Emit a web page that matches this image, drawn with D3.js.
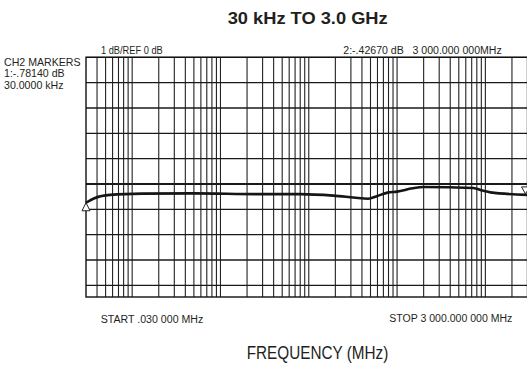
<!DOCTYPE html>
<html>
<head>
<meta charset="utf-8">
<script src="https://cdn.jsdelivr.net/npm/d3@7"></script>
<style>
  body { margin: 0; background: #fff; }
  svg { display: block; }
</style>
</head>
<body>
<div class="sweep-plot"></div>
<script>
// trace values (MHz, dB)
const freqs = [0.03, 0.038, 0.056, 0.13, 0.5, 2.8, 8, 19, 32, 47, 60, 78, 100, 150, 200, 730, 930, 1140, 3000];
const gains = [-0.74, -0.55, -0.43, -0.38, -0.37, -0.40, -0.40, -0.46, -0.53, -0.58, -0.47, -0.34, -0.30, -0.17, -0.12, -0.16, -0.26, -0.33, -0.43];

// grid: 1 dB per division, log frequency lines 1..9 per decade
const dbTicks = [-4, -3, -2, -1, 0, 1, 2, 3, 4, 5];
const decades = [0.01, 0.1, 1, 10, 100, 1000];
const mantissas = [1, 2, 3, 4, 5, 6, 7, 8, 9];

const markerText = ["CH2 MARKERS", "1:-.78140 dB", "30.0000 kHz"];

const width = 527, height = 367;
const plotLeft = 86, plotRight = 527.5, plotTop = 57.3, plotBottom = 297;

const svg = d3.select(".sweep-plot").append("svg")
  .attr("width", width)
  .attr("height", height)
  .attr("viewBox", [0, 0, width, height]);

const x = d3.scaleLog().domain([0.03, 3000]).range([plotLeft, plotRight]);
const y = d3.scaleLinear().domain([0, 5]).range([184, plotTop]);

const freqLines = decades.flatMap(d => mantissas.map(m => +(d * m).toPrecision(3)))
  .filter(f => f > 0.03 && f < 3000);

// vertical grid
svg.append("g")
  .selectAll("line")
  .data(freqLines)
  .join("line")
    .attr("x1", d => x(d)).attr("x2", d => x(d))
    .attr("y1", plotTop).attr("y2", plotBottom)
    .attr("stroke", "#222")
    .attr("stroke-width", 1.1);

// horizontal grid, ref line drawn heavier
svg.append("g")
  .selectAll("line")
  .data(dbTicks)
  .join("line")
    .attr("x1", plotLeft).attr("x2", plotRight)
    .attr("y1", d => y(d)).attr("y2", d => y(d))
    .attr("stroke", "#1a1a1a")
    .attr("stroke-width", d => d === 0 ? 2 : 1.3);

// frame
svg.append("rect")
  .attr("x", plotLeft).attr("y", plotTop)
  .attr("width", plotRight - plotLeft).attr("height", plotBottom - plotTop)
  .attr("fill", "none")
  .attr("stroke", "#111")
  .attr("stroke-width", 1.4);

// trace
const line = d3.line()
  .x((d, i) => x(freqs[i]))
  .y(d => y(d))
  .curve(d3.curveMonotoneX);

svg.append("path")
  .datum(gains)
  .attr("d", line)
  .attr("fill", "none")
  .attr("stroke", "#151515")
  .attr("stroke-width", 2.6)
  .attr("stroke-linejoin", "round");

// marker 1 (start) and marker 2 (stop)
const m1x = x(freqs[0]), m1y = y(gains[0]);
svg.append("path")
  .attr("d", `M${m1x},${m1y} L${m1x - 4},${m1y + 8} L${m1x + 4},${m1y + 8} Z`)
  .attr("fill", "#fff").attr("stroke", "#222").attr("stroke-width", 1);

const last = freqs.length - 1;
const m2x = x(freqs[last]) - 2, m2y = y(gains[last]);
svg.append("path")
  .attr("d", `M${m2x},${m2y - 1} L${m2x - 4},${m2y - 8} L${m2x + 4},${m2y - 8} Z`)
  .attr("fill", "#fff").attr("stroke", "#222").attr("stroke-width", 1);

// texts
svg.append("text")
  .attr("x", 227.7).attr("y", 24)
  .attr("textLength", 160).attr("lengthAdjust", "spacingAndGlyphs")
  .style("font-family", "'Liberation Sans', Arial, sans-serif")
  .style("font-weight", "bold")
  .style("font-size", "17px")
  .attr("fill", "#231f20")
  .text("30 kHz TO 3.0 GHz");

const small = "'Liberation Sans', Arial, sans-serif";

function label(txt, x0, y0, len) {
  svg.append("text")
    .attr("x", x0).attr("y", y0)
    .attr("textLength", len).attr("lengthAdjust", "spacingAndGlyphs")
    .attr("xml:space", "preserve")
    .style("font-family", small).style("font-size", "10px").attr("fill", "#231f20")
    .text(txt);
}

label("1 dB/REF 0 dB", 101, 54.3, 61.7);
label("2:-.42670 dB   3 000.000 000MHz", 343.3, 54.3, 158.4);
label("START .030 000 MHz", 100.7, 323, 102.6);
label("STOP 3 000.000 000 MHz", 389.3, 322, 123);

svg.append("g")
  .selectAll("text")
  .data(markerText)
  .join("text")
    .attr("x", 4).attr("y", (d, i) => 66 + i * 11.3)
    .style("font-family", small).style("font-size", "10.6px").attr("fill", "#231f20")
    .text(d => d);

svg.append("text")
  .attr("x", 246.7).attr("y", 359)
  .attr("textLength", 141.6).attr("lengthAdjust", "spacingAndGlyphs")
  .style("font-family", "'Liberation Sans', Arial, sans-serif")
  .style("font-size", "17.5px")
  .attr("fill", "#231f20")
  .text("FREQUENCY (MHz)");
</script>
</body>
</html>
